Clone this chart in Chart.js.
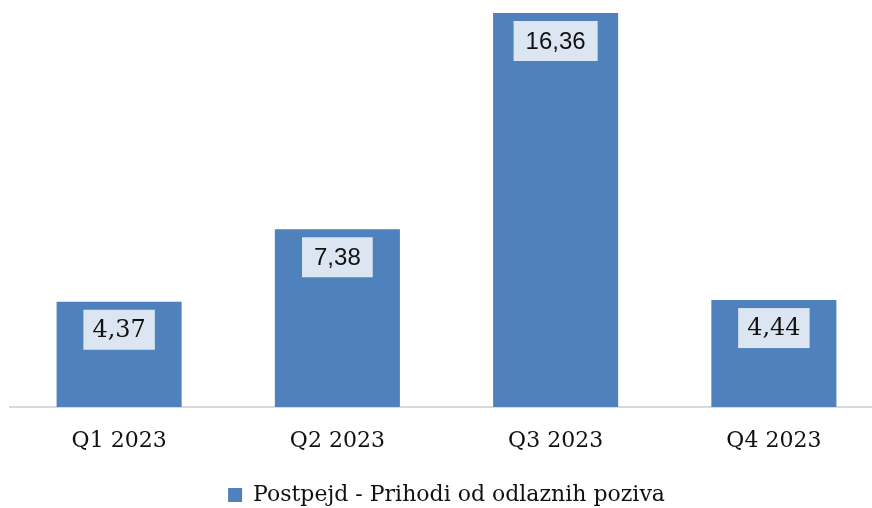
<!DOCTYPE html>
<html>
<head>
<meta charset="utf-8">
<script src="https://cdn.jsdelivr.net/npm/chart.js@4.4.0/dist/chart.umd.min.js"></script>
<style>
  html, body { margin: 0; padding: 0; background: #fff; overflow: hidden; }
  #wrap { width: 894px; height: 516px; }
</style>
</head>
<body>
<div id="wrap"><canvas id="chart"></canvas></div>
<script>
// --------------------- Data ---------------------
const quarters = ["Q1 2023", "Q2 2023", "Q3 2023", "Q4 2023"];
const revenue = [4.37, 7.38, 16.36, 4.44];
const seriesName = "Postpejd - Prihodi od odlaznih poziva";

const barColor = "#4f81bd";

// value labels in a light box near the top of each bar
const valueBoxes = {
  id: "valueBoxes",
  afterDatasetsDraw(chart) {
    const ctx = chart.ctx;
    const meta = chart.getDatasetMeta(0);
    meta.data.forEach((bar, i) => {
      const text = revenue[i].toFixed(2).replace(".", ",");
      const sans = i === 1 || i === 2;
      ctx.save();
      ctx.font = sans ? "24px 'Liberation Sans'" : "24px 'DejaVu Serif'";
      const w = ctx.measureText(text).width + (sans ? 24 : 18);
      const h = 40;
      const top = bar.y + 8;
      ctx.fillStyle = "#dce6f2";
      ctx.fillRect(bar.x - w / 2, top, w, h);
      ctx.fillStyle = "#111";
      ctx.textAlign = "center";
      ctx.textBaseline = "middle";
      ctx.fillText(text, bar.x, top + h / 2 + 1);
      ctx.restore();
    });
  }
};

new Chart(document.getElementById("chart"), {
  type: "bar",
  data: {
    labels: quarters,
    datasets: [{
      label: seriesName,
      data: revenue,
      backgroundColor: barColor,
      categoryPercentage: 1,
      barPercentage: 0.573
    }]
  },
  options: {
    responsive: true,
    maintainAspectRatio: false,
    animation: false,
    layout: { padding: { left: 10, right: 11, top: 0, bottom: 0 } },
    scales: {
      x: {
        grid: { display: false, drawTicks: false },
        border: { display: true, color: "#d9d9d9", width: 2 },
        ticks: { padding: 21, color: "#111", font: { family: "DejaVu Serif", size: 22 } },
        afterFit: (scale) => { scale.height = 73; }
      },
      y: { display: false, min: 0, max: 16.9 }
    },
    plugins: {
      tooltip: { enabled: false },
      legend: {
        position: "bottom",
        labels: {
          boxWidth: 14,
          boxHeight: 14,
          padding: 4,
          color: "#111",
          font: { family: "DejaVu Serif", size: 22 }
        }
      }
    }
  },
  plugins: [valueBoxes]
});
</script>
</body>
</html>
